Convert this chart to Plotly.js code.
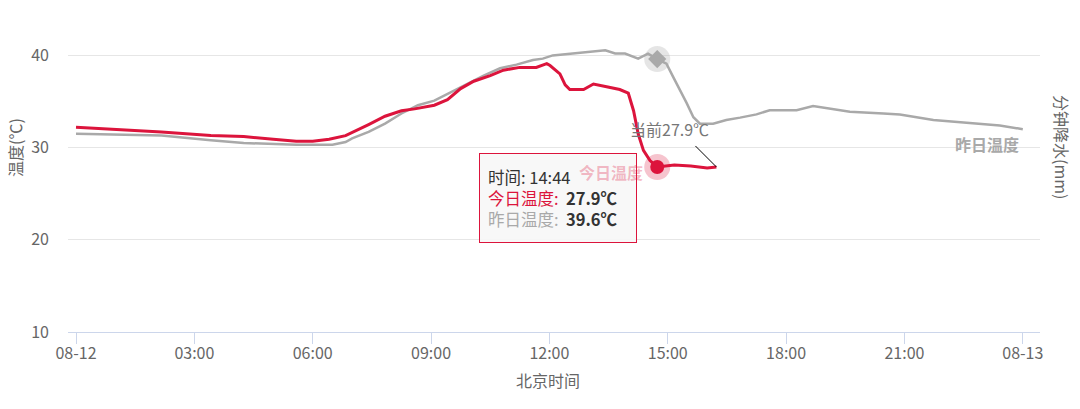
<!DOCTYPE html>
<html>
<head>
<meta charset="utf-8">
<script src="https://cdn.plot.ly/plotly-3.0.1.min.js"></script>
<style>html,body{margin:0;padding:0;background:#fff;}#chart{width:1080px;height:409px;}</style>
</head>
<body>
<div id="chart"></div>
<script>
// ---- data ----
const todayTimes = ["00:00","01:00","02:10","03:25","04:15","05:00","05:35","06:00","06:25","06:50","07:05","07:25","07:50","08:15","08:35","09:05","09:25","09:45","10:05","10:30","10:50","11:15","11:40","11:56","12:01","12:16","12:24","12:31","12:52","13:07","13:27","13:47","14:00","14:08","14:15","14:23","14:33","14:44","15:10","15:35","16:00","16:14"];
const todayTemps = [32.2,32.0,31.7,31.3,31.2,30.9,30.7,30.7,30.9,31.3,31.8,32.5,33.4,34.0,34.2,34.6,35.2,36.4,37.2,37.8,38.4,38.7,38.7,39.1,38.9,38.0,36.8,36.3,36.3,36.9,36.6,36.3,35.9,34.0,31.5,29.7,28.6,27.9,28.1,28.0,27.8,27.9];

const yestTimes = ["00:00","02:10","03:25","04:15","05:35","06:30","06:50","07:00","07:25","07:50","08:15","08:40","09:05","09:30","09:55","10:20","10:45","11:10","11:35","11:50","12:05","12:35","13:00","13:25","13:40","13:55","14:15","14:30","14:44","14:58","15:08","15:19","15:29","15:39","15:49","16:09","16:29","16:50","17:15","17:35","18:16","18:41","19:12","19:37","20:28","20:53","21:44","22:35","23:25","24:00"];
const yestTemps = [31.5,31.3,30.8,30.5,30.3,30.3,30.6,31.0,31.7,32.6,33.7,34.6,35.1,36.0,36.9,37.8,38.6,39.0,39.5,39.65,40.0,40.2,40.4,40.55,40.2,40.2,39.65,40.2,39.6,39.1,37.7,36.2,34.8,33.3,32.6,32.6,33.0,33.25,33.6,34.05,34.05,34.5,34.2,33.9,33.7,33.6,33.0,32.7,32.4,32.0];

const xTickVals = [0,3,6,9,12,15,18,21,24];
const xTickText = ["08-12","03:00","06:00","09:00","12:00","15:00","18:00","21:00","08-13"];
const yTickVals = [10,20,30,40];

const hoverTime = "14:44";
const hoverToday = 27.9;
const hoverYest = 39.6;

const todayName = "今日温度";
const yestName = "昨日温度";
const RED = "#DC143C";
const GRAY = "#A9A9A9";
const FONT = "'Noto Sans CJK SC', 'Noto Sans', sans-serif";

const toH = s => { const p = s.split(":").map(Number); return p[0] + p[1]/60; };
const tx = todayTimes.map(toH);
const yx = yestTimes.map(toH);
const hx = toH(hoverTime);
const lastX = tx[tx.length-1];
const lastY = todayTemps[todayTemps.length-1];

const traces = [
  {x: yx, y: yestTemps, type: "scatter", mode: "lines", name: yestName,
   line: {color: GRAY, width: 2.5}, hoverinfo: "skip"},
  {x: tx, y: todayTemps, type: "scatter", mode: "lines", name: todayName,
   line: {color: RED, width: 3}, hoverinfo: "skip"},
  {x: [hx], y: [hoverYest], type: "scatter", mode: "markers",
   marker: {size: 26, color: "rgba(169,169,169,0.3)"}, hoverinfo: "skip"},
  {x: [hx], y: [hoverYest], type: "scatter", mode: "markers",
   marker: {size: 14, symbol: "diamond", color: GRAY}, hoverinfo: "skip"},
  {x: [hx], y: [hoverToday], type: "scatter", mode: "markers",
   marker: {size: 26, color: "rgba(220,20,60,0.25)"}, hoverinfo: "skip"},
  {x: [hx], y: [hoverToday], type: "scatter", mode: "markers",
   marker: {size: 14, color: RED}, hoverinfo: "skip"}
];

const tipText =
  '<span style="color:#333">时间: ' + hoverTime + '</span><br>' +
  '<span style="color:' + RED + '">' + todayName + ':  </span><b style="color:#333">' + hoverToday.toFixed(1) + '℃</b><br>' +
  '<span style="color:' + GRAY + '">' + yestName + ':  </span><b style="color:#333">' + hoverYest.toFixed(1) + '℃</b>';

const C = {xanchor: "center", yanchor: "middle", showarrow: false};

const layout = {
  width: 1080, height: 409,
  margin: {l: 68, r: 40, t: 20, b: 77},
  paper_bgcolor: "#fff", plot_bgcolor: "#fff",
  showlegend: false,
  hovermode: false,
  font: {family: FONT, color: "#666", size: 16},
  xaxis: {
    type: "linear", range: [-0.203, 24.436],
    tickvals: xTickVals, ticktext: xTickText,
    ticks: "outside", ticklen: 11, tickcolor: "#ccd6eb", tickwidth: 1,
    ticklabelstandoff: -4,
    showline: true, linecolor: "#ccd6eb", linewidth: 1,
    showgrid: false, zeroline: false,
    tickfont: {size: 16, color: "#666", family: FONT}
  },
  yaxis: {
    range: [10, 43.84],
    tickvals: yTickVals,
    showgrid: true, gridcolor: "#e6e6e6", gridwidth: 1,
    zeroline: false, showline: false, ticks: "",
    ticklabelstandoff: 18,
    tickfont: {size: 16, color: "#666", family: FONT}
  },
  shapes: [
    {type: "line", xref: "x", yref: "y", xsizemode: "pixel", ysizemode: "pixel",
     xanchor: lastX, yanchor: lastY, x0: -21, y0: 21, x1: 0, y1: 0,
     line: {color: "#000", width: 1}}
  ],
  annotations: [
    Object.assign({xref: "paper", yref: "paper", x: -0.0545, y: 0.59, text: "温度(℃)", textangle: -90,
     font: {size: 16, color: "#666", family: FONT}}, C),
    Object.assign({xref: "paper", yref: "paper", x: 1.0226, y: 0.593, text: "分钟降水(mm)", textangle: 90,
     font: {size: 16, color: "#666", family: FONT}}, C),
    Object.assign({xref: "paper", yref: "paper", x: 0.4938, y: -0.154, text: "北京时间",
     font: {size: 16, color: "#666", family: FONT}}, C),
    Object.assign({xref: "paper", yref: "paper", x: 0.9455, y: 0.6026, text: "<b>" + yestName + "</b>",
     font: {size: 16, color: GRAY, family: FONT}}, C),
    Object.assign({xref: "x", yref: "y", x: lastX, y: lastY, xshift: -47, yshift: 38,
     text: "当前" + lastY.toFixed(1) + "℃",
     font: {size: 16, color: "#777", family: FONT}}, C),
    Object.assign({xref: "x", yref: "y", x: hx, y: hoverToday, xshift: -99.5, yshift: -31,
     text: tipText, align: "left", valign: "middle",
     width: 140, height: 72, borderpad: 8,
     bgcolor: "rgba(247,247,247,0.9)", bordercolor: RED, borderwidth: 1,
     font: {size: 16.5, color: "#333", family: FONT}}, C),
    Object.assign({xref: "paper", yref: "paper", x: 0.5586, y: 0.5128, text: "<b>" + todayName + "</b>",
     font: {size: 16, color: "rgba(220,20,60,0.3)", family: FONT}}, C)
  ]
};

Plotly.newPlot("chart", traces, layout, {displayModeBar: false, staticPlot: true});
</script>
</body>
</html>
